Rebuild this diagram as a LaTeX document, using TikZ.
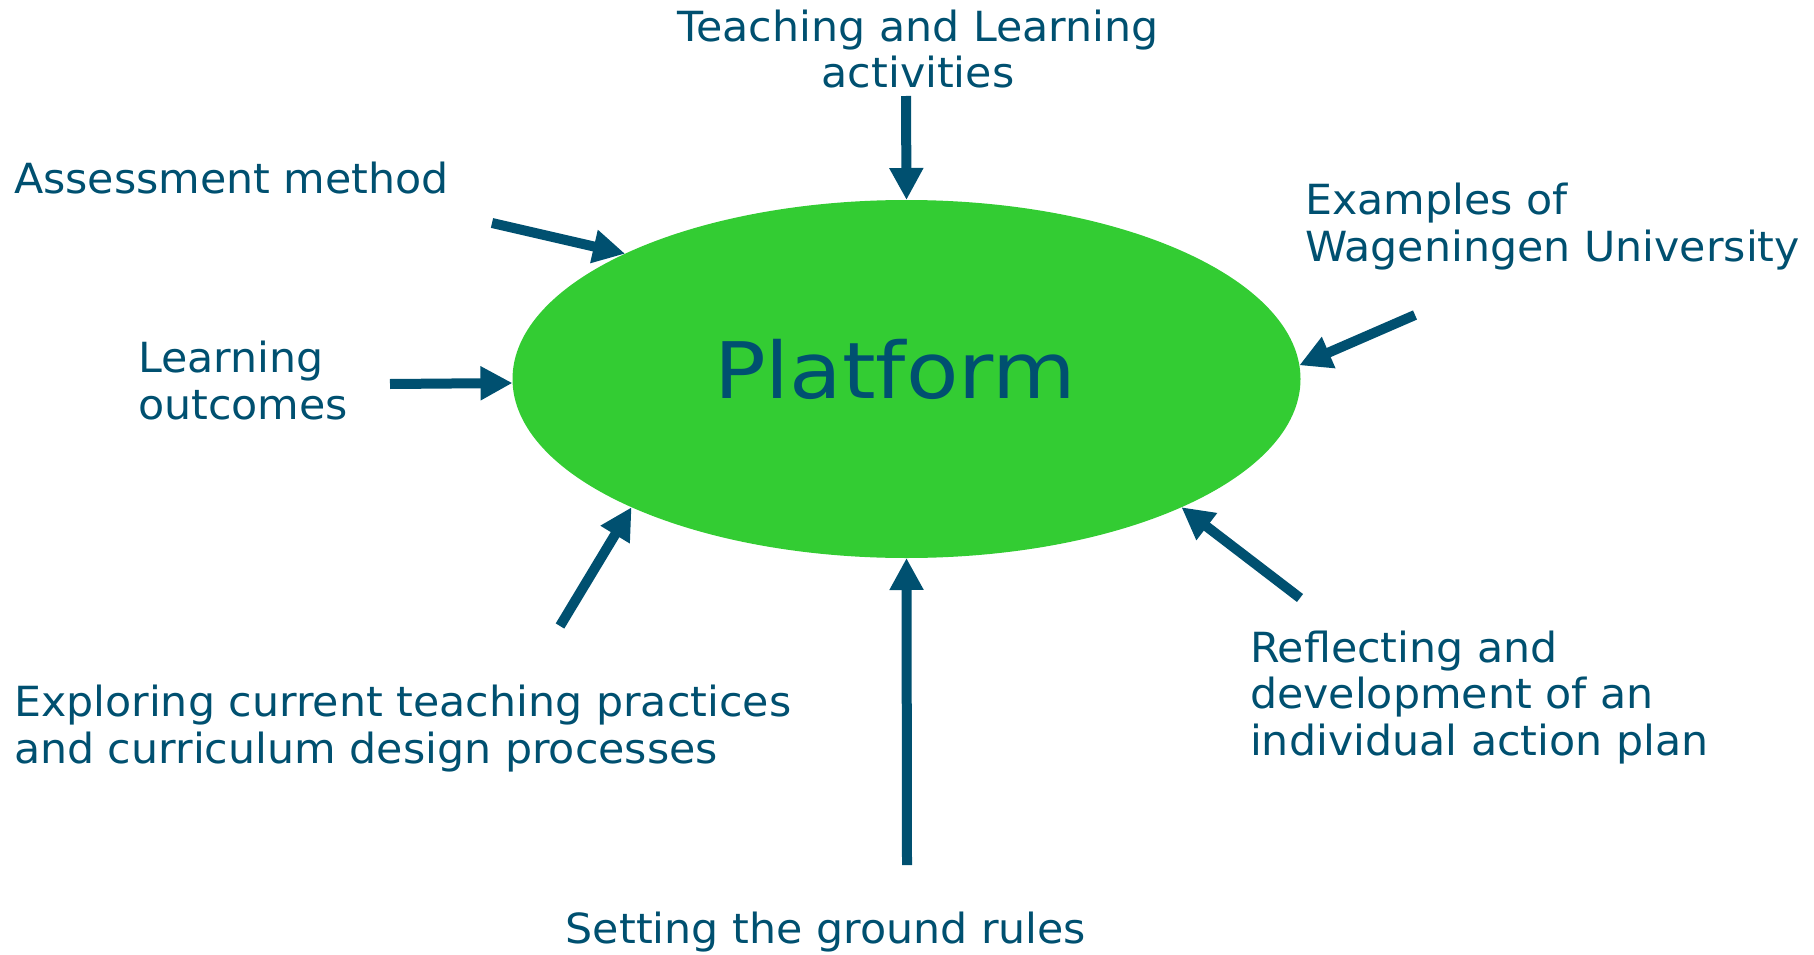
\documentclass[tikz,border=0pt]{standalone}
\usepackage{fontspec}
\setmainfont{DejaVu Sans}[FakeStretch=1.03]
\newfontfamily\platfont{DejaVu Sans}[FakeStretch=1.1]
\usetikzlibrary{arrows.meta,shapes.geometric}
\definecolor{platgreen}{RGB}{51,204,51}
\definecolor{inkblue}{RGB}{0,80,112}
\tikzset{
  label text/.style={text=inkblue, inner sep=0pt, outer sep=0pt,
    font=\fontsize{41.5pt}{46.5pt}\selectfont},
  feed/.style={draw=inkblue, line width=10pt,
    -{Triangle[width=32pt,length=32pt]}},
}
\begin{document}
\begin{tikzpicture}[x=1pt, y=-1pt]
  \useasboundingbox (0,0) rectangle (1814,955);

  % central platform ellipse
  \node[ellipse, fill=platgreen, minimum width=788pt, minimum height=358pt,
        inner sep=0pt, outer sep=0pt] (plat) at (906.5,379) {};
  \node[text=inkblue, inner sep=0pt, anchor=base,
        font=\platfont\fontsize{78pt}{80pt}\selectfont] (ptext) at (895,398) {Platform};

  % surrounding labels (base anchor sits on the last line)
  \node[label text, align=center, anchor=base] (teach) at (918,88)
    {Teaching and Learning\\activities};
  \node[label text, align=left, anchor=base west] (assess) at (14,193)
    {Assessment method};
  \node[label text, align=left, anchor=base west] (learn) at (138,419)
    {Learning\\outcomes};
  \node[label text, align=left, anchor=base west] (exam) at (1305,261)
    {Examples of\\Wageningen University};
  \node[label text, align=left, anchor=base west] (explore) at (14,763)
    {Exploring current teaching practices\\and curriculum design processes};
  \node[label text, align=left, anchor=base west] (reflect) at (1250,755)
    {Reflecting and\\development of an\\individual action plan};
  \node[label text, anchor=base] (rules) at (826,943)
    {Setting the ground rules};

  % arrow tails
  \coordinate (tTeach) at (906,96);
  \coordinate (tAssess) at (492,223);
  \coordinate (tLearn) at (390,384);
  \coordinate (tExam) at (1415,315);
  \coordinate (tReflect) at (1300,598);
  \coordinate (tRules) at (907,865);
  \coordinate (tExplore) at (560,626);

  % arrows into the platform
  \draw[feed] (tTeach) -- (plat.90);
  \draw[feed] (tAssess) -- (plat.156);
  \draw[feed] (tLearn) -- ([yshift=-4pt]plat.west);
  \draw[feed] (tExam) -- (plat.2);
  \draw[feed] (tReflect) -- (plat.335);
  \draw[feed] (tRules) -- (plat.270);
  \draw[feed] (tExplore) -- (plat.205);
\end{tikzpicture}
\end{document}
